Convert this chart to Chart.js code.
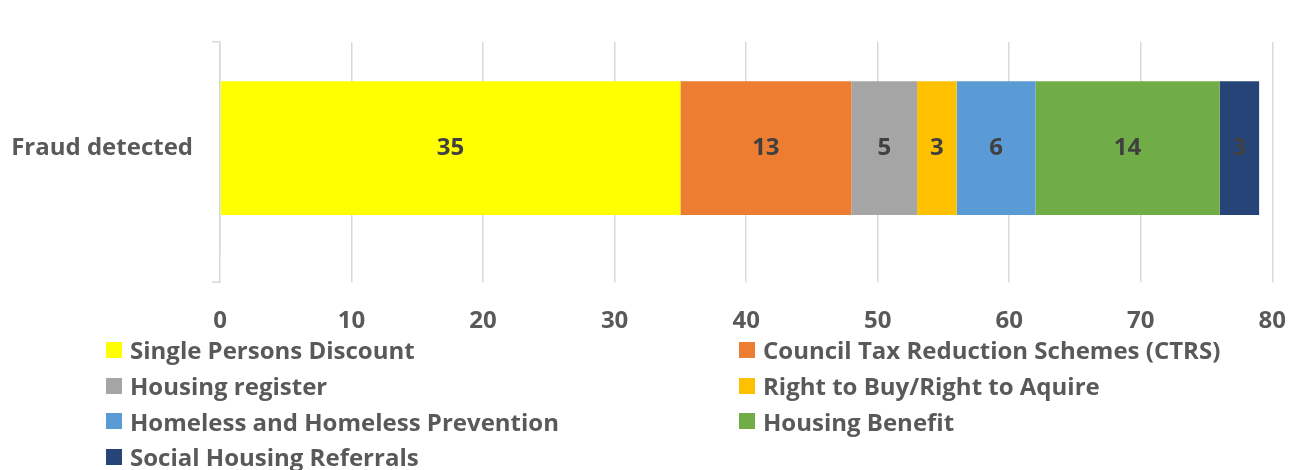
<!DOCTYPE html>
<html>
<head>
<meta charset="utf-8">
<script src="https://cdn.jsdelivr.net/npm/chart.js@4"></script>
<style>
  html, body { margin: 0; padding: 0; background: #fff; }
  #wrap { width: 1297px; height: 470px; position: relative; overflow: hidden; }
  #box { width: 1311px; height: 361px; position: absolute; left: 0; top: 0; }
  #legend {
    position: absolute;
    left: 106px;
    top: 332px;
    display: grid;
    grid-template-columns: 633px 500px;
    font-family: "Open Sans", Lato, sans-serif;
    font-weight: bold;
    font-size: 24px;
    color: #595959;
  }
  .item { display: flex; align-items: center; height: 35.7px; white-space: nowrap; }
  .swatch { width: 16px; height: 16px; margin-right: 8px; flex: none; }
</style>
</head>
<body>
<div id="wrap">
  <div id="box"><canvas id="chart"></canvas></div>
  <div id="legend"></div>
</div>
<script>
// categories and series
const categories = ['Fraud detected']
const seriesNames = [
  'Single Persons Discount',
  'Council Tax Reduction Schemes (CTRS)',
  'Housing register',
  'Right to Buy/Right to Aquire',
  'Homeless and Homeless Prevention',
  'Housing Benefit',
  'Social Housing Referrals'
]
const seriesValues = [35, 13, 5, 3, 6, 14, 3]
const seriesColors = ['#FFFF00', '#ED7D31', '#A5A5A5', '#FFC000', '#5B9BD5', '#70AD47', '#264478']
const xTicks = [0, 10, 20, 30, 40, 50, 60, 70, 80]

const fontFamily = '"Open Sans", Lato, sans-serif'
const textGray = '#595959'
const gridGray = '#D9D9D9'

// writes the value in the middle of each bar segment
const valueLabels = {
  id: 'valueLabels',
  afterDatasetsDraw(chart) {
    const ctx = chart.ctx
    ctx.save()
    ctx.font = 'bold 24px ' + fontFamily
    ctx.fillStyle = '#404040'
    ctx.textAlign = 'center'
    ctx.textBaseline = 'middle'
    chart.data.datasets.forEach((ds, i) => {
      chart.getDatasetMeta(i).data.forEach((bar, j) => {
        const p = bar.getProps(['x', 'y', 'base'], true)
        ctx.fillText(ds.data[j], (p.x + p.base) / 2, p.y)
      })
    })
    ctx.restore()
  }
}

// small closing tick at the foot of the category axis, level with the end of the x grid lines
const axisFoot = {
  id: 'axisFoot',
  afterDraw(chart) {
    const x = chart.scales.x
    const y = chart.scales.y
    const left = x.getPixelForValue(0)
    const bottom = chart.chartArea.bottom + x.options.grid.tickLength
    const ctx = chart.ctx
    ctx.save()
    ctx.strokeStyle = gridGray
    ctx.lineWidth = 1.5
    ctx.beginPath()
    ctx.moveTo(left - y.options.grid.tickLength, bottom)
    ctx.lineTo(left + 0.75, bottom)
    ctx.stroke()
    ctx.restore()
  }
}

// two column legend under the chart
function buildLegend(chart) {
  const el = document.getElementById('legend')
  el.innerHTML = ''
  chart.data.datasets.forEach(ds => {
    const item = document.createElement('div')
    item.className = 'item'
    const sw = document.createElement('span')
    sw.className = 'swatch'
    sw.style.background = ds.backgroundColor
    const txt = document.createElement('span')
    txt.textContent = ds.label
    item.appendChild(sw)
    item.appendChild(txt)
    el.appendChild(item)
  })
}

const graph = document.getElementById('chart')
const myChart = new Chart(graph, {
  type: 'bar',
  data: {
    labels: categories,
    datasets: seriesNames.map((name, i) => ({
      label: name,
      data: [seriesValues[i]],
      backgroundColor: seriesColors[i],
      borderWidth: 0,
      categoryPercentage: 0.63,
      barPercentage: 1
    }))
  },
  options: {
    indexAxis: 'y',
    responsive: true,
    maintainAspectRatio: false,
    animation: false,
    layout: { padding: { top: 42, right: 10, left: 0, bottom: 0 } },
    plugins: {
      legend: { display: false },
      tooltip: { enabled: false }
    },
    scales: {
      x: {
        stacked: true,
        min: 0,
        max: 80,
        afterBuildTicks: axis => { axis.ticks = xTicks.map(v => ({ value: v })) },
        border: { display: false },
        grid: { color: gridGray, lineWidth: 1.5, drawTicks: true, tickLength: 28 },
        ticks: {
          padding: 25,
          color: textGray,
          font: { family: fontFamily, size: 24, weight: 'bold' }
        }
      },
      y: {
        stacked: true,
        afterFit: scale => { scale.width = 220 },
        border: { display: true, color: gridGray, width: 1.5 },
        grid: {
          offset: true,
          drawOnChartArea: false,
          color: gridGray,
          // only the top tick; the foot tick is drawn by axisFoot
          tickColor: ctx => ctx.index === 0 ? gridGray : 'rgba(0,0,0,0)',
          lineWidth: 1.5,
          tickLength: 8
        },
        ticks: {
          padding: 19,
          color: textGray,
          font: { family: fontFamily, size: 24, weight: 'bold' }
        }
      }
    }
  },
  plugins: [valueLabels, axisFoot]
})

buildLegend(myChart)
</script>
</body>
</html>
